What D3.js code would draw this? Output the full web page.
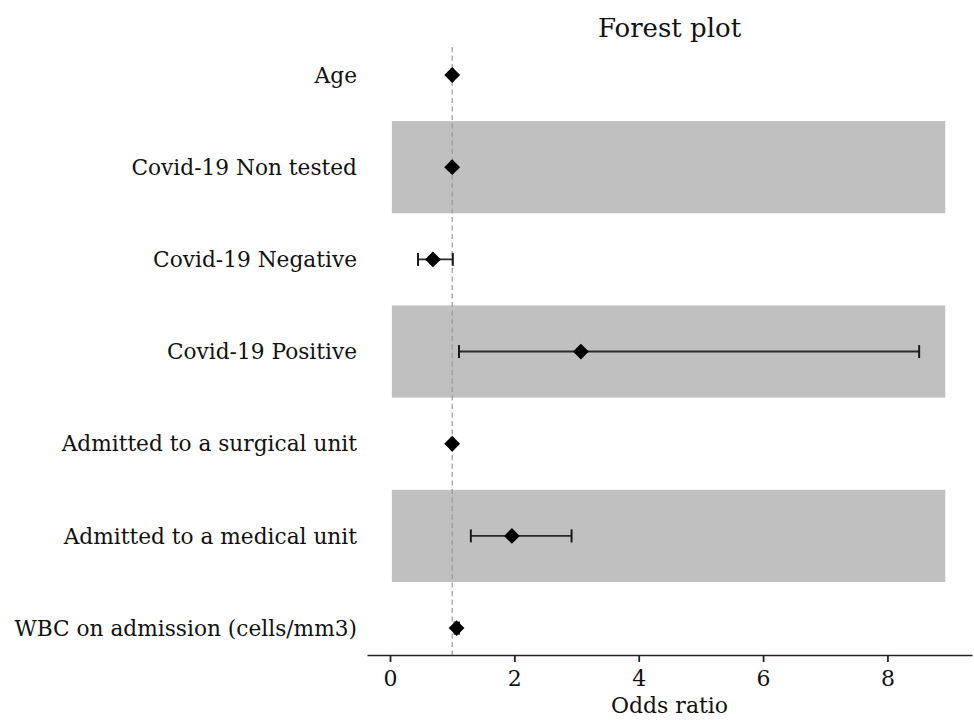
<!DOCTYPE html>
<html><head><meta charset="utf-8">
<script src="https://cdn.jsdelivr.net/npm/d3@7/dist/d3.min.js"></script>
<style>body{margin:0;background:#fff}svg{display:block}</style>
</head><body>
<script>
const categories = ["Age","Covid-19 Non tested","Covid-19 Negative","Covid-19 Positive","Admitted to a surgical unit","Admitted to a medical unit","WBC on admission (cells/mm3)"];
const oddsRatio = [1.0, 1.0, 0.69, 3.07, 1.0, 1.96, 1.07];
const ciLow     = [0.99, 0.99, 0.45, 1.11, 0.99, 1.30, 1.04];
const ciHigh    = [1.01, 1.01, 1.01, 8.51, 1.01, 2.92, 1.11];
const shaded    = [false, true, false, true, false, true, false];
const xTicks = [0,2,4,6,8];
const bandRange = [0.03, 8.93];
const refLine = 1;

(function(){
const W=974,H=720;
const svg=d3.select("body").append("svg").attr("width",W).attr("height",H);
const mLeft=367,mRight=972,mTop=47,mBottom=655;
const x=d3.scaleLinear().domain([-0.37,9.36]).range([mLeft,mRight]);
const y=d3.scaleLinear().domain([-0.304,6.292]).range([mTop,mBottom]);
const font="DejaVu Serif";

svg.selectAll("rect.band").data(categories.map((c,i)=>({c,i})).filter(d=>shaded[d.i]))
 .enter().append("rect").attr("x",x(bandRange[0])).attr("width",x(bandRange[1])-x(bandRange[0]))
 .attr("y",d=>y(d.i-0.5)).attr("height",d=>y(d.i+0.5)-y(d.i-0.5)).attr("fill","#c0c0c0");

svg.append("line").attr("x1",x(refLine)).attr("x2",x(refLine)).attr("y1",mTop).attr("y2",mBottom)
 .attr("stroke","#999").attr("stroke-width",1.2).attr("stroke-dasharray","5,3.5");

const g=svg.append("g");
categories.forEach((c,i)=>{
  const yy=y(i);
  g.append("line").attr("x1",x(ciLow[i])).attr("x2",x(ciHigh[i])).attr("y1",yy).attr("y2",yy).attr("stroke","#2a2a2a").attr("stroke-width",1.9);
  [ciLow[i],ciHigh[i]].forEach(v=>g.append("line").attr("x1",x(v)).attr("x2",x(v)).attr("y1",yy-6.5).attr("y2",yy+6.5).attr("stroke","#1a1a1a").attr("stroke-width",2));
  g.append("path").attr("d",d3.symbol(d3.symbolSquare,125)()).attr("transform",`translate(${x(oddsRatio[i])},${yy}) rotate(45)`).attr("fill","#000");
  svg.append("text").attr("x",357).attr("y",yy).attr("dy","0.35em").attr("text-anchor","end")
    .attr("font-family",font).attr("font-size",21.7).attr("fill","#111").text(c);
});

const ax=svg.append("g").attr("transform",`translate(0,${mBottom})`)
 .call(d3.axisBottom(x).tickValues(xTicks).tickSize(7).tickPadding(8).tickSizeOuter(0));
ax.select(".domain").attr("stroke","#222").attr("stroke-width",1.5);
ax.selectAll(".tick line").attr("stroke","#222").attr("stroke-width",1.8);
ax.selectAll("text").attr("font-family",font).attr("font-size",22).attr("fill","#111");

svg.append("text").attr("x",(mLeft+mRight)/2).attr("y",713).attr("text-anchor","middle")
 .attr("font-family",font).attr("font-size",22).attr("fill","#111").text("Odds ratio");
svg.append("text").attr("x",(mLeft+mRight)/2).attr("y",37).attr("text-anchor","middle")
 .attr("font-family",font).attr("font-size",26).attr("fill","#111").text("Forest plot");
})();
</script>
</body></html>
